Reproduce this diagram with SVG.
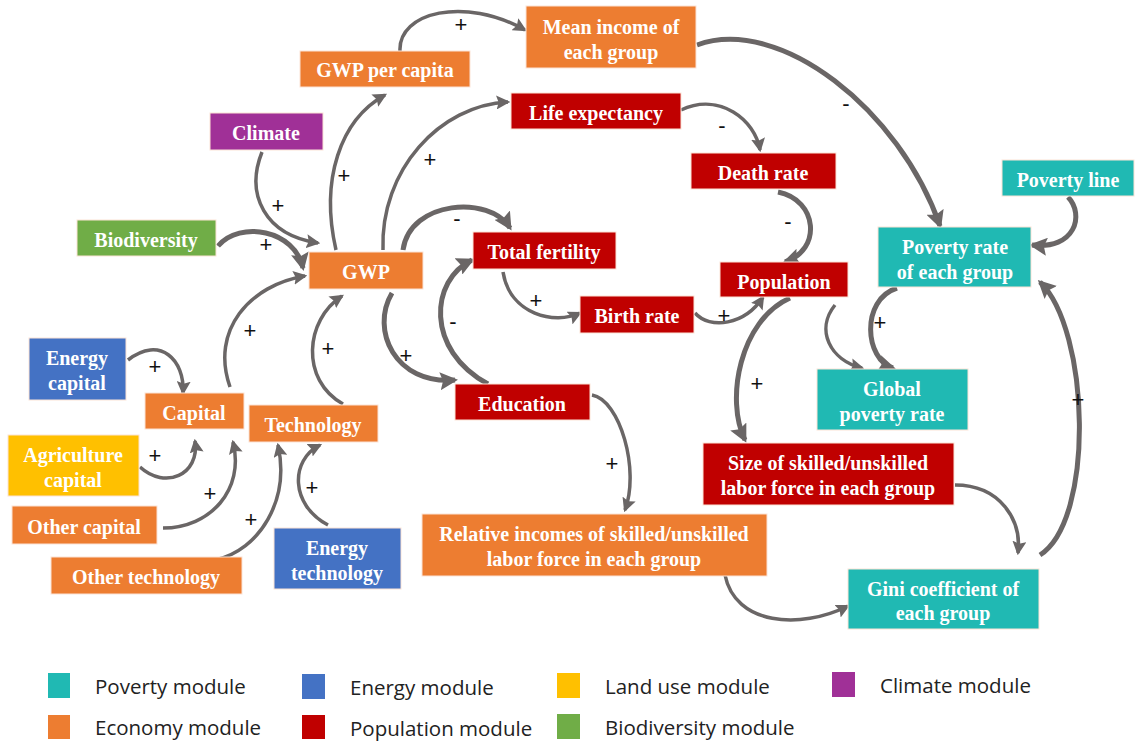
<svg xmlns="http://www.w3.org/2000/svg" width="1135" height="746" viewBox="0 0 1135 746">
<defs>
<marker id="ah" viewBox="0 0 12 12" refX="10" refY="6" markerWidth="14" markerHeight="14" markerUnits="userSpaceOnUse" orient="auto">
<path d="M0,0 L12,6 L0,12 L2,6 z" fill="#6a6666"/>
</marker>
<marker id="ahb" viewBox="0 0 12 12" refX="10" refY="6" markerWidth="18" markerHeight="18" markerUnits="userSpaceOnUse" orient="auto">
<path d="M0,0 L12,6 L0,12 L2,6 z" fill="#6a6666"/>
</marker>
</defs>
<style>
.n rect{stroke:#fbe3d6;stroke-width:1}
.t{font-family:"Liberation Serif","Times New Roman",serif;font-weight:bold;font-size:20px;fill:#fff;text-anchor:middle;dominant-baseline:central}
.or{fill:#ED7D31}.rd{fill:#C00000}.tl{fill:#20B9B3}.bl{fill:#4472C4}.yl{fill:#FFC000}.gr{fill:#70AD47}.pu{fill:#A03097}
.c path{fill:none;stroke:#6a6666;stroke-width:3.5;marker-end:url(#ah)}
.c path.k{stroke-width:5;marker-end:url(#ahb)}
.l{font-family:"Liberation Sans",Arial,sans-serif;font-size:22px;fill:#111;text-anchor:middle;dominant-baseline:central}
.lg{font-family:"Open Sans","Liberation Sans",sans-serif;font-size:20.5px;fill:#222;dominant-baseline:central}
</style>
<rect width="1135" height="746" fill="#fff"/>
<g class="c" id="connectors">
<path d="M400 51 C398 12,465 -4,525 30"/>
<path class="k" d="M697 45 C780 15,900 110,940 226"/>
<path d="M681 110 C720 92,755 120,760 150"/>
<path class="k" d="M778 192 C818 200,822 250,785 262"/>
<path class="k" d="M1068 197 C1085 215,1075 250,1032 245"/>
<path d="M262 152 C245 195,265 235,318 243"/>
<path class="k" d="M218 246 C240 220,295 230,303 268"/>
<path d="M336 250 C320 180,340 120,385 95"/>
<path d="M383 250 C380 170,440 105,508 102"/>
<path class="k" d="M403 250 C410 200,490 195,510 228"/>
<path class="k" d="M392 293 C370 330,395 385,455 380"/>
<path class="k" d="M488 384 C425 350,430 280,472 260"/>
<path d="M503 272 C510 315,555 325,580 313"/>
<path d="M695 313 C710 330,745 325,763 297"/>
<path class="k" d="M790 298 C740 320,725 400,745 440"/>
<path d="M835 305 C815 330,830 360,862 368"/>
<path class="k" d="M897 288 C860 300,865 360,893 368"/>
<path class="k" d="M1040 555 C1095 520,1090 330,1040 282"/>
<path d="M955 485 C1000 485,1022 520,1018 553"/>
<path d="M725 575 C735 625,800 630,848 606"/>
<path d="M592 395 C620 400,640 470,625 510"/>
<path d="M230 387 C210 330,250 285,305 276"/>
<path d="M343 404 C300 380,305 320,342 296"/>
<path d="M128 360 C160 335,185 360,183 393"/>
<path d="M140 467 C165 490,200 475,195 441"/>
<path d="M163 528 C210 528,245 490,233 442"/>
<path d="M215 560 C260 550,290 500,278 445"/>
<path d="M328 525 C290 505,290 460,320 445"/>
</g>
<g id="signs">
<text class="l" x="461" y="24">+</text>
<text class="l" x="846" y="103">-</text>
<text class="l" x="722" y="125">-</text>
<text class="l" x="788" y="221">-</text>
<text class="l" x="278" y="205">+</text>
<text class="l" x="266" y="244">+</text>
<text class="l" x="344" y="175">+</text>
<text class="l" x="430" y="159">+</text>
<text class="l" x="457" y="218">-</text>
<text class="l" x="406" y="355">+</text>
<text class="l" x="453" y="321">-</text>
<text class="l" x="536" y="300">+</text>
<text class="l" x="724" y="315">+</text>
<text class="l" x="757" y="383">+</text>
<text class="l" x="880" y="322">+</text>
<text class="l" x="1078" y="399">+</text>
<text class="l" x="612" y="463">+</text>
<text class="l" x="250" y="330">+</text>
<text class="l" x="328" y="348">+</text>
<text class="l" x="155" y="366">+</text>
<text class="l" x="155" y="455">+</text>
<text class="l" x="210" y="493">+</text>
<text class="l" x="251" y="519">+</text>
<text class="l" x="312" y="487">+</text>
</g>
<g class="n" id="gwp-per-capita"><rect class="or" x="300" y="51" width="170" height="36"/><text class="t" x="385" y="70">GWP per capita</text></g>
<g class="n" id="mean-income"><rect class="or" x="526" y="6" width="170" height="62"/><text class="t" x="611" y="27">Mean income of</text><text class="t" x="611" y="52">each group</text></g>
<g class="n" id="life-expectancy"><rect class="rd" x="511" y="93" width="170" height="36"/><text class="t" x="596" y="113">Life expectancy</text></g>
<g class="n" id="climate"><rect class="pu" x="210" y="113" width="113" height="37"/><text class="t" x="266" y="133">Climate</text></g>
<g class="n" id="death-rate"><rect class="rd" x="691" y="153" width="145" height="36"/><text class="t" x="763" y="173">Death rate</text></g>
<g class="n" id="poverty-line"><rect class="tl" x="1002" y="160" width="132" height="36"/><text class="t" x="1068" y="180">Poverty line</text></g>
<g class="n" id="biodiversity"><rect class="gr" x="77" y="220" width="139" height="36"/><text class="t" x="146" y="240">Biodiversity</text></g>
<g class="n" id="total-fertility"><rect class="rd" x="473" y="232" width="143" height="37"/><text class="t" x="544" y="252">Total fertility</text></g>
<g class="n" id="poverty-rate"><rect class="tl" x="878" y="227" width="153" height="60"/><text class="t" x="955" y="247">Poverty rate</text><text class="t" x="955" y="272">of each group</text></g>
<g class="n" id="gwp"><rect class="or" x="309" y="252" width="114" height="37"/><text class="t" x="366" y="272">GWP</text></g>
<g class="n" id="population"><rect class="rd" x="720" y="262" width="128" height="35"/><text class="t" x="784" y="282">Population</text></g>
<g class="n" id="birth-rate"><rect class="rd" x="580" y="296" width="114" height="37"/><text class="t" x="637" y="316">Birth rate</text></g>
<g class="n" id="energy-capital"><rect class="bl" x="29" y="338" width="97" height="62"/><text class="t" x="77" y="358">Energy</text><text class="t" x="77" y="383">capital</text></g>
<g class="n" id="capital"><rect class="or" x="145" y="393" width="99" height="36"/><text class="t" x="194" y="413">Capital</text></g>
<g class="n" id="technology"><rect class="or" x="249" y="405" width="129" height="37"/><text class="t" x="313" y="425">Technology</text></g>
<g class="n" id="education"><rect class="rd" x="455" y="384" width="135" height="36"/><text class="t" x="522" y="404">Education</text></g>
<g class="n" id="global-poverty-rate"><rect class="tl" x="817" y="369" width="151" height="61"/><text class="t" x="892" y="389">Global</text><text class="t" x="892" y="414">poverty rate</text></g>
<g class="n" id="agriculture-capital"><rect class="yl" x="8" y="435" width="131" height="61"/><text class="t" x="73" y="455">Agriculture</text><text class="t" x="73" y="480">capital</text></g>
<g class="n" id="labor-force-size"><rect class="rd" x="703" y="443" width="251" height="62"/><text class="t" x="828" y="463">Size of skilled/unskilled</text><text class="t" x="828" y="488">labor force in each group</text></g>
<g class="n" id="other-capital"><rect class="or" x="12" y="506" width="145" height="38"/><text class="t" x="84" y="527">Other capital</text></g>
<g class="n" id="relative-incomes"><rect class="or" x="422" y="514" width="345" height="62"/><text class="t" x="594" y="534">Relative incomes of skilled/unskilled</text><text class="t" x="594" y="559">labor force in each group</text></g>
<g class="n" id="energy-technology"><rect class="bl" x="274" y="528" width="127" height="61"/><text class="t" x="337" y="548">Energy</text><text class="t" x="337" y="573">technology</text></g>
<g class="n" id="other-technology"><rect class="or" x="51" y="557" width="191" height="37"/><text class="t" x="146" y="577">Other technology</text></g>
<g class="n" id="gini"><rect class="tl" x="848" y="569" width="191" height="60"/><text class="t" x="943" y="589">Gini coefficient of</text><text class="t" x="943" y="613">each group</text></g>
<g id="legend">
<rect class="tl" x="48" y="673" width="22" height="25"/><text class="lg" x="95" y="686">Poverty module</text>
<rect class="bl" x="302" y="674" width="23" height="25"/><text class="lg" x="350" y="687">Energy module</text>
<rect class="yl" x="557" y="673" width="23" height="25"/><text class="lg" x="605" y="686">Land use module</text>
<rect class="pu" x="832" y="672" width="23" height="25"/><text class="lg" x="880" y="685">Climate module</text>
<rect class="or" x="48" y="715" width="22" height="24"/><text class="lg" x="95" y="727">Economy module</text>
<rect class="rd" x="302" y="715" width="23" height="24"/><text class="lg" x="350" y="728">Population module</text>
<rect class="gr" x="557" y="714" width="23" height="25"/><text class="lg" x="605" y="727">Biodiversity module</text>
</g>
</svg>
